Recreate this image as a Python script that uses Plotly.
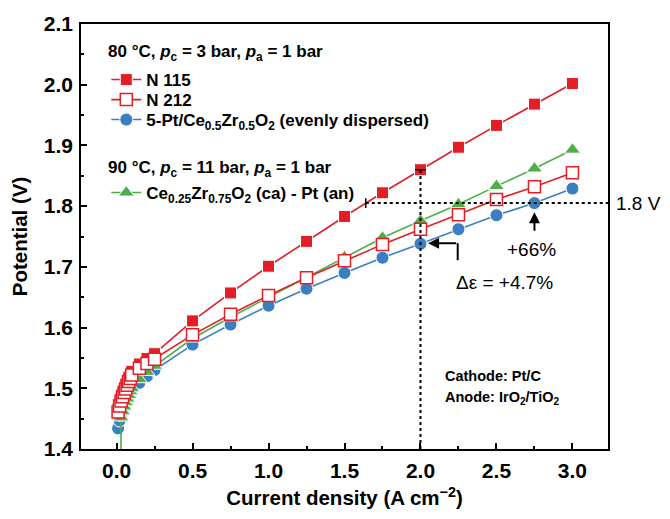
import plotly.graph_objects as go

# ---------------- data ----------------
current = [0.01, 0.02, 0.03, 0.04, 0.05, 0.06, 0.07, 0.08, 0.09, 0.10, 0.15, 0.20, 0.25,
           0.50, 0.75, 1.00, 1.25, 1.50, 1.75, 2.00, 2.25, 2.50, 2.75, 3.00]
v_n115 = [1.466, 1.476, 1.484, 1.492, 1.499, 1.505, 1.511, 1.517, 1.522, 1.528, 1.540, 1.549, 1.557,
          1.611, 1.657, 1.701, 1.742, 1.783, 1.822, 1.860, 1.897, 1.933, 1.968, 2.002]
v_n212 = [1.461, 1.471, 1.479, 1.486, 1.493, 1.499, 1.505, 1.511, 1.516, 1.522, 1.533, 1.541, 1.548,
          1.588, 1.622, 1.653, 1.682, 1.710, 1.737, 1.762, 1.786, 1.811, 1.832, 1.855]
v_ptcezr = [1.434, 1.447, 1.456, 1.463, 1.470, 1.476, 1.481, 1.486, 1.491, 1.496, 1.509, 1.520, 1.530,
            1.572, 1.605, 1.636, 1.664, 1.690, 1.715, 1.738, 1.762, 1.785, 1.805, 1.829]
current_green = [0.025, 0.03, 0.04, 0.05, 0.06, 0.07, 0.08, 0.09, 0.10, 0.15, 0.20, 0.25,
                 0.50, 0.75, 1.00, 1.25, 1.50, 1.75, 2.00, 2.25, 2.50, 2.75, 3.00]
v_green = [1.20, 1.452, 1.462, 1.470, 1.477, 1.483, 1.489, 1.495, 1.500, 1.515, 1.527, 1.537,
           1.582, 1.617, 1.650, 1.683, 1.716, 1.748, 1.776, 1.803, 1.833, 1.862, 1.893]

x_ticks = [0.0, 0.5, 1.0, 1.5, 2.0, 2.5, 3.0]
y_ticks = [1.4, 1.5, 1.6, 1.7, 1.8, 1.9, 2.0, 2.1]

RED = "#e41e26"
BLUE = "#3a7fc1"
GREEN = "#4caf4a"
FONT = "Arial, Liberation Sans, sans-serif"
LEG_FONT = dict(family=FONT, size=17, color="black", weight="bold")

fig = go.Figure()

# z-order: blue, green, N115, N212
fig.add_trace(go.Scatter(
    x=current, y=v_ptcezr, mode="lines+markers",
    name="5-Pt/Ce<sub>0.5</sub>Zr<sub>0.5</sub>O<sub>2</sub> (evenly dispersed)",
    line=dict(color=BLUE, width=1.6),
    marker=dict(symbol="circle", size=13, color=BLUE, line=dict(color="white", width=1)),
    legend="legend3",
))
fig.add_trace(go.Scatter(
    x=current_green, y=v_green, mode="lines+markers",
    name="Ce<sub>0.25</sub>Zr<sub>0.75</sub>O<sub>2</sub> (ca) - Pt (an)",
    line=dict(color=GREEN, width=1.6),
    marker=dict(symbol="triangle-up", size=14, color=GREEN, line=dict(color="white", width=1)),
    legend="legend4",
))
fig.add_trace(go.Scatter(
    x=current, y=v_n115, mode="lines+markers", name="N 115",
    line=dict(color=RED, width=1.6),
    marker=dict(symbol="square", size=12, color=RED, line=dict(color="white", width=1)),
    legend="legend",
))
fig.add_trace(go.Scatter(
    x=current, y=v_n212, mode="lines+markers", name="N 212",
    line=dict(color=RED, width=1.6),
    marker=dict(symbol="square", size=12, color="white", line=dict(color=RED, width=1.5)),
    legend="legend2",
))

# reference lines
V_REF = 1.805
x_cross = 1.64
fig.add_shape(type="line", xref="x", x0=x_cross, x1=3.234, y0=V_REF, y1=V_REF, yref="y",
              line=dict(color="black", width=2, dash="dot"))
fig.add_shape(type="line", x0=2.0, x1=2.0, y0=1.4, y1=1.860, xref="x", yref="y",
              line=dict(color="black", width=2, dash="dot"))
# small caps
fig.add_shape(type="line", x0=x_cross, x1=x_cross, y0=V_REF - 0.008, y1=V_REF + 0.008,
              line=dict(color="black", width=1.5))
fig.add_shape(type="line", x0=1.965, x1=2.035, y0=1.860, y1=1.860,
              line=dict(color="black", width=1.5))

# elbow arrow (vertical part)
fig.add_shape(type="line", x0=2.245, x1=2.245, y0=1.711, y1=1.739,
              line=dict(color="black", width=2))

annotations = [
    dict(x=2.05, y=1.739, ax=2.245, ay=1.739, axref="x", ayref="y", xref="x", yref="y",
         text="", showarrow=True, arrowhead=2, arrowsize=1.1, arrowwidth=2, arrowcolor="black"),
    dict(x=2.75, y=1.790, ax=2.75, ay=1.757, axref="x", ayref="y", xref="x", yref="y",
         text="", showarrow=True, arrowhead=2, arrowsize=1.1, arrowwidth=2, arrowcolor="black"),
    dict(x=2.73, y=1.728, xref="x", yref="y", text="+66%", showarrow=False,
         font=dict(family=FONT, size=19, color="black")),
    dict(x=2.555, y=1.675, xref="x", yref="y", text="Δε = +4.7%", showarrow=False,
         font=dict(family=FONT, size=19, color="black")),
    dict(x=1.0, y=V_REF, xref="paper", yref="y", text="1.8 V", showarrow=False, xshift=6,
         xanchor="left", font=dict(family=FONT, size=19, color="black")),
    dict(x=2.15, y=1.520, xref="x", yref="y", xanchor="left", showarrow=False,
         text="Cathode: Pt/C",
         font=dict(family=FONT, size=14.5, color="black", weight="bold")),
    dict(x=2.15, y=1.484, xref="x", yref="y", xanchor="left", showarrow=False,
         text="Anode: IrO<sub>2</sub>/TiO<sub>2</sub>",
         font=dict(family=FONT, size=14.5, color="black", weight="bold")),
    # legend group headings
    dict(x=0.0512, y=0.9318, xref="paper", yref="paper", xanchor="left", yanchor="middle",
         showarrow=False, xshift=-2,
         text="80 °C, <i>p</i><sub>c</sub> = 3 bar, <i>p</i><sub>a</sub> = 1 bar", font=LEG_FONT),
    dict(x=0.0512, y=0.6588, xref="paper", yref="paper", xanchor="left", yanchor="middle",
         showarrow=False, xshift=-2,
         text="90 °C, <i>p</i><sub>c</sub> = 11 bar, <i>p</i><sub>a</sub> = 1 bar", font=LEG_FONT),
]

axis_common = dict(
    showline=True, linecolor="black", linewidth=1.5, mirror=True,
    ticks="inside", ticklen=6, tickwidth=1.5, tickcolor="black",
    showgrid=False, zeroline=False, automargin=False, ticklabelstandoff=2,
    tickfont=dict(family=FONT, size=21, color="black", weight="bold"),
)

def leg(y):
    return dict(x=0.048, y=y, xanchor="left", yanchor="middle",
                bgcolor="rgba(0,0,0,0)", borderwidth=0, font=LEG_FONT)

# The page adds an 8 px body margin, so the figure is sized/margined to compensate.
fig.update_layout(
    width=662, height=511,
    margin=dict(l=73, r=62, t=16, b=70),
    paper_bgcolor="white", plot_bgcolor="white",
    showlegend=True,
    legend=leg(0.8682),
    legend2=leg(0.8211),
    legend3=leg(0.7741),
    legend4=leg(0.6023),
    xaxis=dict(range=[-0.234, 3.234], tickvals=x_ticks, tickformat=".1f",
               minor=dict(dtick=0.25, ticks="inside", ticklen=3, tickcolor="black", tickwidth=1.5),
               title=dict(text="Current density (A cm<sup>−2</sup>)", standoff=10,
                          font=dict(family=FONT, size=20.5, color="black", weight="bold")),
               **axis_common),
    yaxis=dict(range=[1.4, 2.1], tickvals=y_ticks, tickformat=".1f",
               minor=dict(dtick=0.05, ticks="inside", ticklen=3, tickcolor="black", tickwidth=1.5),
               title=dict(text="Potential (V)", standoff=22,
                          font=dict(family=FONT, size=20.5, color="black", weight="bold")),
               **axis_common),
    annotations=annotations,
)

fig.write_html("out.html")
